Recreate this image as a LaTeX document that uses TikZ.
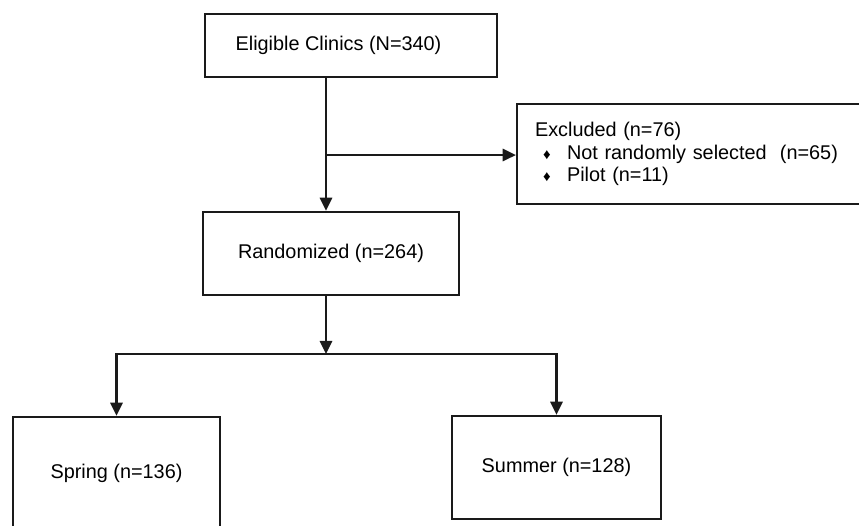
\documentclass[tikz,border=0pt]{standalone}
\usepackage{fontspec}
\setmainfont{Liberation Sans}
\usetikzlibrary{positioning, arrows.meta, calc}
\usepackage{xcolor}
\definecolor{boxline}{HTML}{1A1A1A}

\newcommand{\exclitem}{\makebox[0.48cm]{\fontsize{8.5}{8.5}\selectfont ♦}\hspace{0.16cm}}

\begin{document}
\begin{tikzpicture}[x=0.02cm, y=-0.02cm,
    font=\fontsize{11.3}{12.8}\selectfont,
    box/.style={draw=boxline, line width=1.3pt, align=center, inner sep=0pt},
    arr/.style={draw=boxline, line width=1.3pt, -{Triangle[length=7.5pt, width=7pt]}}]
        \clip (0,0) rectangle (859,525);
        \node[box, minimum width=5.84cm, minimum height=1.26cm] (elig) at (351,45.5)
          {Eligible Clinics (N=340)\hspace*{0.5cm}};
        \node[box, minimum width=5.12cm, minimum height=1.66cm] (rand) at (331,253.5)
          {Randomized (n=264)};
        \node[box, align=left, text width=6.54cm, inner xsep=0.36cm,
          minimum height=2cm] (excl) at (698.5,154)
          {Excluded (n=76)\\
           \exclitem Not randomly selected\ \ (n=65)\\
           \exclitem Pilot (n=11)};
        \node[box, minimum width=4.14cm, minimum height=2.26cm] (spring) at (116.5,473.5)
          {Spring (n=136)};
        \node[box, minimum width=4.18cm, minimum height=2.06cm] (summer) at (556.5,467.5)
          {Summer (n=128)};
        % trunk and branch points
        \coordinate (split) at (326,155);
        \coordinate (fork) at (326,354);
        \draw[arr] (split |- elig.south) -- (split |- rand.north);
        \draw[arr] (split) -- (split -| excl.west);
        \draw[arr] (fork |- rand.south) -- (fork);
        \draw[arr] (fork) -| (spring.north);
        \draw[arr] (fork) -| (summer.north);
      \end{tikzpicture}
\end{document}
